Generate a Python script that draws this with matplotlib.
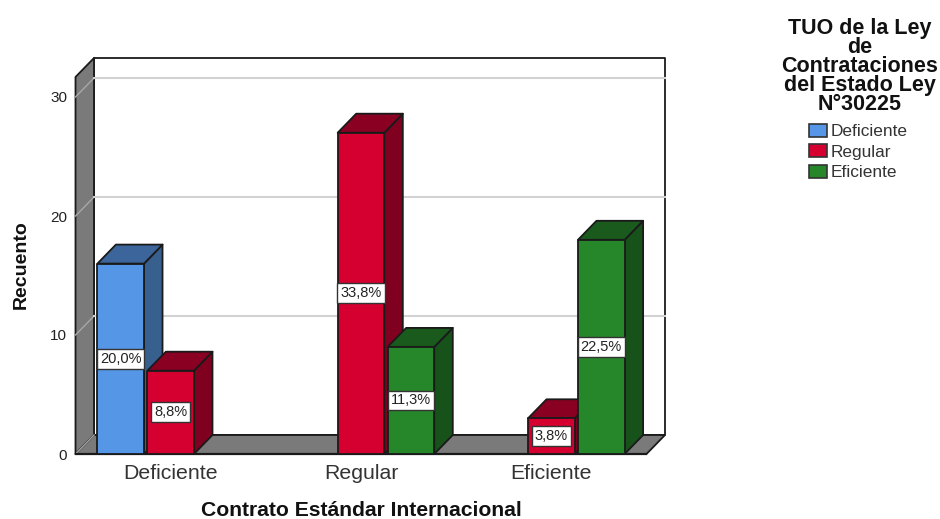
import matplotlib
matplotlib.use('Agg')
import matplotlib.pyplot as plt
from matplotlib.patches import Polygon, Patch

plt.rcParams['font.family'] = ['Liberation Sans', 'DejaVu Sans']

categories = ['Deficiente', 'Regular', 'Eficiente']
series_names = ['Deficiente', 'Regular', 'Eficiente']
# counts per category, None = no bar
deficiente = [16, None, None]
regular = [7, 27, 3]
eficiente = [None, 9, 18]
pct_deficiente = ['20,0%', None, None]
pct_regular = ['8,8%', '33,8%', '3,8%']
pct_eficiente = [None, '11,3%', '22,5%']
y_ticks = [0, 10, 20, 30]

front_colors = ['#5596E6', '#D60030', '#26862A']
side_colors = ['#37608F', '#80001F', '#17521A']
top_colors = ['#3B659B', '#8A0022', '#1A5A1D']
wall = '#7A7A7A'
grid = '#D2D2D2'
edge = '#1A1A1A'

W, H = 940, 519
fig = plt.figure(figsize=(W / 100, H / 100), dpi=100)
# front plane of the 3D box, in pixels
left, right, bottom, top = 75.5, 646.5, 454, 77
ax = fig.add_axes([left / W, 1 - bottom / H, (right - left) / W, (bottom - top) / H])
ax.set_xlim(-0.5, 2.5)
ax.set_ylim(0, (bottom - top) / 11.9)
ax.patch.set_visible(False)
for s in ax.spines.values():
    s.set_visible(False)

# depth of the 3D effect in data units
dx = 18.5 / 190.33
dy = 19 / 11.9
x0, x1 = ax.get_xlim()
y0, y1 = ax.get_ylim()


def poly(points, color, ec=edge, lw=1.3, z=1):
    ax.add_patch(Polygon(points, closed=True, fc=color, ec=ec, lw=lw, zorder=z,
                         clip_on=False, joinstyle='round'))


# back wall, left wall, floor
poly([(x0 + dx, y0 + dy), (x1 + dx, y0 + dy), (x1 + dx, y1 + dy), (x0 + dx, y1 + dy)], 'white')
poly([(x0, y0), (x0 + dx, y0 + dy), (x0 + dx, y1 + dy), (x0, y1)], wall)
poly([(x0, y0), (x1, y0), (x1 + dx, y0 + dy), (x0 + dx, y0 + dy)], wall)

# gridlines run along the left wall and the back wall
for t in y_ticks[1:]:
    ax.plot([x0, x0 + dx], [t, t + dy], color='#A8A8A8', lw=1, zorder=2, clip_on=False)
    ax.plot([x0 + dx, x1 + dx], [t + dy, t + dy], color=grid, lw=1.5, zorder=2, clip_on=False)
ax.plot([x0, x0 + dx], [0, dy], color='#A8A8A8', lw=1, zorder=2)
ax.plot([x0, x1], [0, 0], color=edge, lw=1.6, zorder=3, clip_on=False)

offsets = [-0.2625, 0, 0.2625]
bar_w = 0.245
series = [deficiente, regular, eficiente]
pcts = [pct_deficiente, pct_regular, pct_eficiente]
z = 4
for i in range(len(categories)):
    for j in range(3):
        v = series[j][i]
        if v is None:
            continue
        a = i + offsets[j] - bar_w / 2
        b = a + bar_w
        poly([(b, 0), (b + dx, dy), (b + dx, v + dy), (b, v)], side_colors[j], z=z)
        poly([(a, v), (b, v), (b + dx, v + dy), (a + dx, v + dy)], top_colors[j], z=z)
        poly([(a, 0), (b, 0), (b, v), (a, v)], front_colors[j], z=z)
        ax.text(i + offsets[j], v / 2, pcts[j][i], ha='center', va='center', fontsize=10.5,
                color='#222222', zorder=20,
                bbox=dict(boxstyle='square,pad=0.2', fc='white', ec='#333333', lw=1))
        z += 1

ax.set_xticks(range(3), categories)
ax.set_yticks(y_ticks)
ax.tick_params(axis='x', length=0, labelsize=15.3, pad=7, labelcolor='#333333')
ax.tick_params(axis='y', length=0, labelsize=11, pad=6, labelcolor='#222222')

fig.text(361 / W, 1 - 510 / H, 'Contrato Estándar Internacional', ha='center', va='center',
         fontsize=15.2, fontweight='bold', color='#111111')
fig.text(21 / W, 1 - 265 / H, 'Recuento', rotation=90, ha='center', va='center',
         fontsize=14, fontweight='bold', color='#111111')

# legend title and entries
fig.text(860 / W, 1 - 66.5 / H, 'TUO de la Ley\nde\nContrataciones\ndel Estado Ley\nN°30225',
         ha='center', va='center', fontsize=15.5, fontweight='bold', color='#111111', linespacing=0.88)
handles = [Patch(fc=front_colors[k], ec='#333333', lw=1.2) for k in range(3)]
fig.legend(handles, series_names, loc='upper left', bbox_to_anchor=(807 / W, 1 - 122 / H),
           frameon=False, fontsize=12.4, labelcolor='#333333', handlelength=1.05, handleheight=0.8,
           handletextpad=0.2, labelspacing=0.28, borderpad=0.1, borderaxespad=0)

fig.savefig('out.png', dpi=100)
